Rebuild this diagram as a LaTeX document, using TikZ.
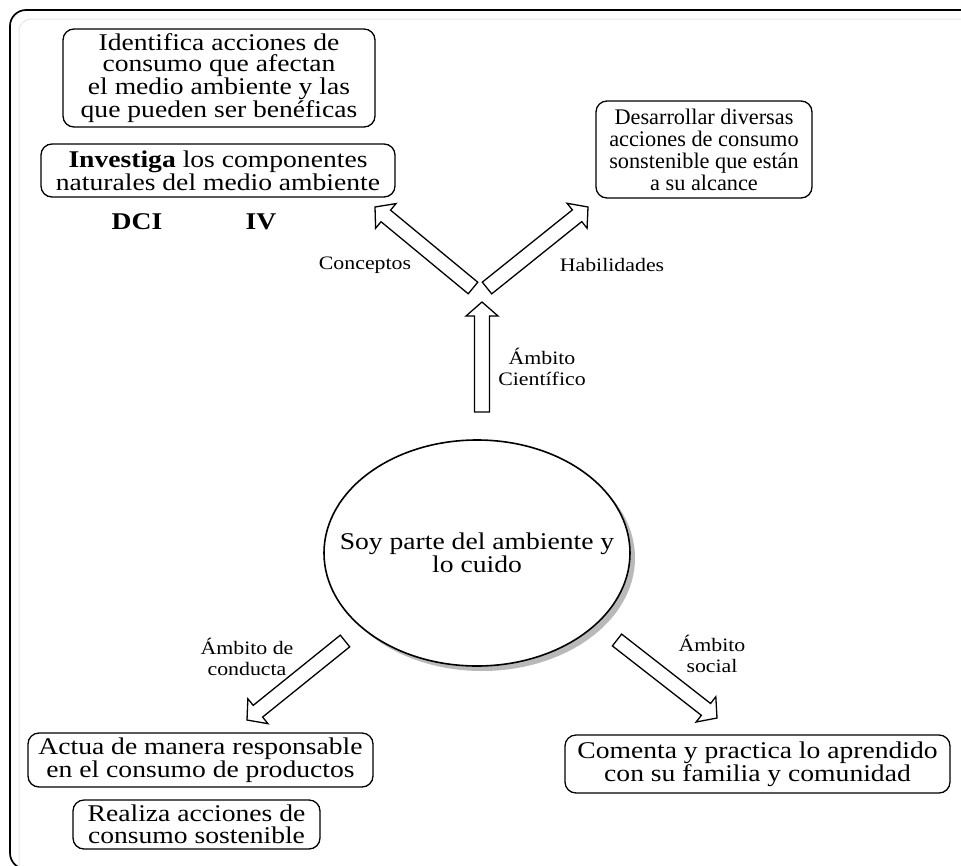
\documentclass[tikz,border=0pt]{standalone}
\usepackage{fontspec}
\setmainfont{Liberation Serif}[FakeStretch=1.15]
\newfontfamily\plainserif{Liberation Serif}
\usetikzlibrary{calc,shapes.geometric,shadows}

\newcommand\boxfont{\fontsize{24}{21.7}\selectfont}
\newcommand\smallboxfont{\plainserif\fontsize{22.3}{22}\selectfont}
\newcommand\labelfont{\fontsize{19}{20.5}\selectfont}

\tikzset{
  goalbox/.style={draw, line width=1.3pt, rounded corners=11pt, fill=white,
    align=center, inner sep=0pt, font=\boxfont},
  tag/.style={align=center, inner sep=0pt, font=\labelfont},
  code/.style={inner sep=0pt, font=\boxfont\bfseries},
  blockarrow/.style={draw, line width=1.3pt, fill=white, line join=miter},
}

% hollow block arrow from #1 to the tip #2
\newcommand\hollowarrow[2]{%
  \draw[blockarrow]
    ($(#1)!7.5pt!90:(#2)$)
    -- ($($(#2)!14pt!(#1)$)!7.5pt!90:(#2)$)
    -- ($($(#2)!14pt!(#1)$)!16pt!90:(#2)$)
    -- (#2)
    -- ($($(#2)!14pt!(#1)$)!16pt!-90:(#2)$)
    -- ($($(#2)!14pt!(#1)$)!7.5pt!-90:(#2)$)
    -- ($(#1)!7.5pt!-90:(#2)$) -- cycle;}

\begin{document}
\begin{tikzpicture}[x=1pt,y=-1pt]
\useasboundingbox (0,0) rectangle (961,865);

% page frame
\begin{scope}
\clip (0,0) rectangle (961,865);
\draw[gray!18, line width=1pt, rounded corners=12pt] (19,19) rectangle (990,880);
\draw[line width=1.7pt, rounded corners=16pt] (10,10) rectangle (990,869);
\end{scope}

% central idea
\node[ellipse, draw, line width=1.6pt, fill=white, minimum width=306, minimum height=226,
      inner sep=0pt,
      drop shadow={shadow xshift=5pt, shadow yshift=-5pt, fill=gray!55, opacity=1}]
  (core) at (477,553) {};
\node[align=center, inner sep=0pt, font=\boxfont] (coretext) at (core.center)
  {Soy parte del ambiente y\\lo cuido};

% outcome boxes
\node[goalbox, minimum width=312, minimum height=98] (identify) at (219,78)
  {Identifica acciones de\\consumo que afectan\\el medio ambiente y las\\que pueden ser benéficas};
\node[goalbox, minimum width=354, minimum height=53] (research) at (218,170.5)
  {\textbf{Investiga} los componentes\\naturales del medio ambiente};
\node[goalbox, minimum width=216, minimum height=97, font=\smallboxfont] (develop) at (704,149.5)
  {Desarrollar diversas\\acciones de consumo\\sonstenible que están\\a su alcance};
\node[goalbox, minimum width=345, minimum height=54] (act) at (200.5,760)
  {Actua de manera responsable\\en el consumo de productos};
\node[goalbox, minimum width=247, minimum height=49] (realize) at (196.5,824.5)
  {Realiza acciones de\\consumo sostenible};
\node[goalbox, minimum width=385, minimum height=58] (comment) at (757.5,764)
  {Comenta y practica lo aprendido\\con su familia y comunidad};

\node[code] (dci) at (137,222) {DCI};
\node[code] (iv) at (261,222) {IV};

% arrow end points
\coordinate (sciA) at (482,412);  \coordinate (sciB) at (482,302);
\coordinate (conA) at (473,288);  \coordinate (conB) at (375,207);
\coordinate (habA) at (487,288);  \coordinate (habB) at (588,207);
\coordinate (conductA) at (345,641); \coordinate (conductB) at (247,720);
\coordinate (socA) at (617,640);  \coordinate (socB) at (717,718);

\hollowarrow{sciA}{sciB}
\hollowarrow{conA}{conB}
\hollowarrow{habA}{habB}
\hollowarrow{conductA}{conductB}
\hollowarrow{socA}{socB}

% arrow labels
\node[tag] (lcon) at (365,265) {Conceptos};
\node[tag] (lhab) at (612,265) {Habilidades};
\node[tag] (lsci) at (542,367) {Ámbito\\Científico};
\node[tag] (lconduct) at (247,657) {Ámbito de\\conducta};
\node[tag] (lsoc) at (712,654) {Ámbito\\social};
\end{tikzpicture}
\end{document}
